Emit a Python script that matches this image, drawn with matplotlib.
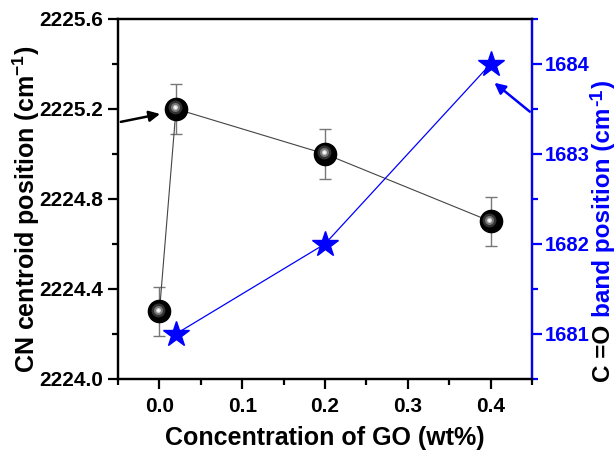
import matplotlib
matplotlib.use("Agg")
import matplotlib.pyplot as plt
import matplotlib.transforms as mtransforms
from matplotlib.ticker import MultipleLocator

plt.rcParams['font.family'] = ['Liberation Sans', 'DejaVu Sans']
plt.rcParams['font.weight'] = 'bold'
plt.rcParams['mathtext.fontset'] = 'custom'
plt.rcParams['mathtext.rm'] = 'Liberation Sans:bold'
plt.rcParams['mathtext.bf'] = 'Liberation Sans:bold'

# data
conc = [0.0, 0.02, 0.2, 0.4]
cn_pos = [2224.3, 2225.2, 2225.0, 2224.7]
cn_err = [0.11, 0.11, 0.11, 0.11]
co_conc = [0.02, 0.2, 0.4]
co_pos = [1681.0, 1682.0, 1684.0]

fig = plt.figure(figsize=(6.15, 4.51), dpi=100)
ax = fig.add_axes([0.192, 0.160, 0.673, 0.798])
ax2 = ax.twinx()

# CN series (black spheres)
ax.errorbar(conc, cn_pos, yerr=cn_err, fmt='none', ecolor='#777777',
            elinewidth=1, capsize=4, capthick=1, zorder=2)
ax.plot(conc, cn_pos, color='#444444', lw=0.8, zorder=3)
ax.plot(conc, cn_pos, 'o', ms=16, color='black', mec='black', zorder=4)
# fake shading on the spheres
shift = mtransforms.offset_copy(ax.transData, fig=fig, x=-1.5, y=1.5, units='dots')
ax.plot(conc, cn_pos, 'o', ms=10, color='#333333', mec='none', transform=shift, zorder=5)
ax.plot(conc, cn_pos, 'o', ms=6.5, color='#7a7a7a', mec='none', transform=shift, zorder=6)
ax.plot(conc, cn_pos, 'o', ms=3.5, color='#d8d8d8', mec='none', transform=shift, zorder=7)
ax.plot(conc, cn_pos, 'o', ms=1.8, color='white', mec='none', transform=shift, zorder=8)

# C=O series (blue stars)
ax2.plot(co_conc, co_pos, color='blue', lw=0.9, zorder=3)
ax2.plot(co_conc, co_pos, '*', ms=19, color='blue', mec='blue', zorder=4)

# arrows pointing at the axes
ax.annotate('', xy=(0.004, 2225.18), xytext=(-0.05, 2225.14),
            arrowprops=dict(arrowstyle='-|>', color='black', lw=1.8, mutation_scale=16),
            annotation_clip=False)
ax2.annotate('', xy=(0.402, 1683.81), xytext=(0.45, 1683.45),
             arrowprops=dict(arrowstyle='-|>', color='blue', lw=1.8, mutation_scale=16),
             annotation_clip=False)

ax.set_xlim(-0.05, 0.45)
ax.set_ylim(2224.0, 2225.6)
ax2.set_ylim(1680.5, 1684.5)

ax.xaxis.set_major_locator(MultipleLocator(0.1))
ax.xaxis.set_minor_locator(MultipleLocator(0.05))
ax.yaxis.set_major_locator(MultipleLocator(0.4))
ax.yaxis.set_minor_locator(MultipleLocator(0.2))
ax2.yaxis.set_major_locator(MultipleLocator(1))
ax2.yaxis.set_minor_locator(MultipleLocator(0.5))

for s in ax.spines.values():
    s.set_linewidth(1.6)
for s in ax2.spines.values():
    s.set_linewidth(1.6)
ax2.spines['right'].set_color('blue')

ax.tick_params(axis='both', which='major', direction='out', length=7, width=1.6)
ax.tick_params(axis='both', which='minor', direction='out', length=4, width=1.6)
ax.tick_params(axis='x', labelsize=15, pad=6)
ax.tick_params(axis='y', labelsize=15, pad=3.5)
ax2.tick_params(axis='y', which='major', direction='out', length=7, width=1.6,
                colors='blue', labelsize=14.5, pad=2)
ax2.tick_params(axis='y', which='minor', direction='out', length=4, width=1.6, colors='blue')

for lab in ax.get_xticklabels() + ax.get_yticklabels() + ax2.get_yticklabels():
    lab.set_weight('bold')

ax.set_xlabel('Concentration of GO (wt%)', fontsize=18, fontweight='bold', labelpad=7)

fig.text(0.043, 0.536, r'CN centroid position (cm$^{\mathbf{-1}}$)', rotation=90,
         fontsize=18, fontweight='bold', ha='center', va='center')

# right label built from pieces: black "C =O", blue rest, raised "-1"
fig.canvas.draw()
rend = fig.canvas.get_renderer()
H = fig.bbox.height
W = fig.bbox.width
base_x = 610 / W
kw = dict(rotation=90, rotation_mode='anchor', ha='left', va='baseline',
          fontweight='bold')
t = fig.text(base_x, 69 / H, 'C =O', fontsize=17.5, color='black', **kw)
y = t.get_window_extent(rend).y1 + 8
t = fig.text(base_x, y / H, 'band position (cm', fontsize=17.5, color='blue', **kw)
y = t.get_window_extent(rend).y1 + 1
t = fig.text(base_x - 8 / W, y / H, '-1', fontsize=14, color='blue', **kw)
y = t.get_window_extent(rend).y1 + 1
fig.text(base_x, y / H, ')', fontsize=17.5, color='blue', **kw)

fig.savefig('out.png', dpi=100)
